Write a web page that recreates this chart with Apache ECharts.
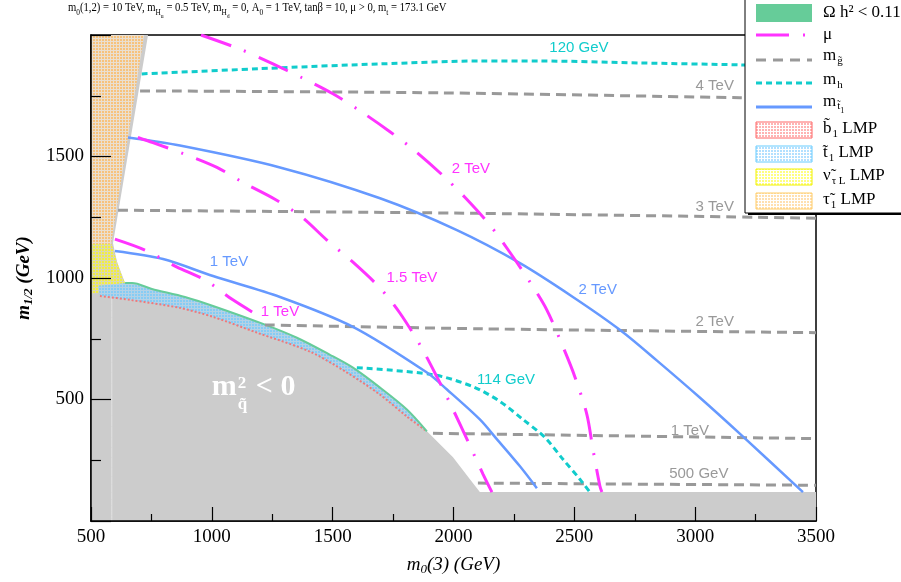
<!DOCTYPE html>
<html>
<head>
<meta charset="utf-8">
<title>m0(3) - m1/2 plane</title>
<script src="https://cdn.jsdelivr.net/npm/echarts@6/dist/echarts.min.js"></script>
<style>html,body{margin:0;padding:0;background:#fff}#main{width:901px;height:582px}</style>
</head>
<body>
<div id="main"></div>
<script>
// axis ticks
var xTickValues = [500, 1000, 1500, 2000, 2500, 3000, 3500];
var yTickLabels = [500, 1000, 1500];

// regions, points are [m0(3), m1/2] in GeV
var noEWSB = [[500,0],[500,2000],[736,2000],[591,1143],[608,1065],[641,979],[670,975],[752,955],[889,922],[1005,885],[1212,811],[1352,754],[1489,684],[1584,631],[1696,549],[1807,459],[1890,369],[1998,262],[2068,172],[2109,119],[3500,119],[3500,0]];
var stauLMP = [[500,2000],[720,2000],[583,1140],[500,1140]];
var snuLMP = [[500,1140],[585,1140],[608,1065],[628,1008],[641,979],[600,955],[540,940],[500,935]];
var stopLMP = [[530,968],[641,979],[670,979],[752,955],[889,922],[1005,885],[1212,811],[1352,754],[1489,684],[1584,631],[1696,549],[1807,459],[1890,369],[1807,430],[1696,520],[1559,611],[1406,697],[1187,775],[1005,840],[868,877],[661,910],[537,926]];
var sbotLMP = [[537,926],[661,910],[868,877],[1005,840],[1187,775],[1406,697],[1559,611],[1696,520],[1807,430],[1890,369]];
var relicLine = [[641,979],[670,979],[752,955],[889,922],[1005,885],[1212,811],[1352,754],[1489,684],[1584,631],[1696,549],[1807,459],[1890,369]];
var seamLine = [[586,0],[586,955]];

// mu contours
var mu1 = [[599,1160],[723,1115],[856,1045],[972,992],[1087,910],[1207,836]];
var mu15 = [[694,1578],[756,1557],[881,1512],[1021,1455],[1129,1393],[1261,1324],[1373,1250],[1476,1156],[1584,1065],[1696,959],[1778,856],[1861,725],[1931,594],[1998,459],[2056,336],[2122,193],[2159,119]];
var mu2 = [[955,2000],[1116,1942],[1253,1881],[1373,1824],[1501,1758],[1613,1688],[1737,1602],[1840,1524],[1956,1422],[2047,1332],[2151,1217],[2233,1106],[2316,984],[2386,869],[2453,717],[2502,594],[2552,438],[2577,295],[2606,143],[2614,119]];
// gluino mass contours
var gl4 = [[703,1770],[1944,1762],[3185,1742],[3500,1738]];
var gl3 = [[612,1279],[2109,1266],[3500,1246]];
var gl2 = [[1220,807],[2109,791],[3500,775]];
var gl1 = [[1915,361],[3500,339]];
var gl05 = [[2101,156],[3500,147]];
// higgs mass contours
var h120 = [[710,1840],[1282,1865],[1696,1881],[2109,1893],[2357,1893],[2771,1885],[3185,1877],[3500,1869]];
var h114 = [[1600,631],[1915,602],[2080,553],[2192,492],[2287,418],[2378,344],[2453,254],[2523,172],[2564,119]];
// stop mass contours
var stop1 = [[599,1111],[798,1078],[1005,1008],[1282,922],[1584,799],[1890,611],[1973,541],[2109,418],[2180,336],[2275,225],[2345,135]];
var stop2 = [[653,1578],[868,1545],[1282,1455],[1696,1328],[2014,1197],[2275,1061],[2494,922],[2688,787],[2842,660],[3019,508],[3197,348],[3446,119]];

// contour labels
var muLabels = [[1282,861,'1 TeV'],[1828,1000,'1.5 TeV'],[2072,1451,'2 TeV']];
var stopLabels = [[1071,1065,'1 TeV'],[2597,951,'2 TeV']];
var gluinoLabels = [[3081,1791,'4 TeV'],[3081,1291,'3 TeV'],[3081,820,'2 TeV'],[2978,369,'1 TeV'],[3015,193,'500 GeV']];
var higgsLabels = [[2519,1947,'120 GeV'],[2217,582,'114 GeV']];
var tachyonNote = [[1178,561]];

var C = {
    mu: '#ff33ff', gluino: '#999999', higgs: '#11cccc', stop: '#6699ff',
    relic: '#66cc99', grey: '#cccccc'
};
var serif = '"Liberation Serif", "Times New Roman", serif';
var sans = '"Liberation Sans", Arial, sans-serif';

function pattern(fg, bg) {
    var c = document.createElement('canvas');
    c.width = 3; c.height = 3;
    var g = c.getContext('2d');
    g.fillStyle = bg; g.fillRect(0, 0, 3, 3);
    g.fillStyle = fg; g.fillRect(0, 0, 2, 2);
    return { image: c, repeat: 'repeat' };
}

function region(points, fill, z) {
    return {
        type: 'custom', coordinateSystem: 'cartesian2d', silent: true, z: z,
        data: [points[0]],
        renderItem: function (params, api) {
            return { type: 'polygon', shape: { points: points.map(function (p) { return api.coord(p); }) }, style: { fill: fill } };
        }
    };
}

function contour(data, color, width, type, z) {
    return {
        type: 'line', data: data, showSymbol: false, symbol: 'none', smooth: 0.3, silent: true, z: z || 4,
        lineStyle: { color: color, width: width, type: type }
    };
}

function labels(arr, color) {
    return {
        type: 'custom', coordinateSystem: 'cartesian2d', silent: true, z: 6,
        data: arr.map(function (d) { return [d[0], d[1]]; }),
        renderItem: function (params, api) {
            var c = api.coord([api.value(0), api.value(1)]);
            return { type: 'text', x: c[0], y: c[1], style: { text: arr[params.dataIndex][2], fill: color, font: '15px ' + sans, align: 'center', verticalAlign: 'middle' } };
        }
    };
}

var chart = echarts.init(document.getElementById('main'));

var legendRich = {
    b: { fontFamily: serif, fontSize: 17, color: '#000', verticalAlign: 'top', lineHeight: 18 },
    s: { fontFamily: serif, fontSize: 11, color: '#000', verticalAlign: 'top', padding: [8, 0, 0, 1] },
    ss: { fontFamily: serif, fontSize: 8, color: '#000', verticalAlign: 'top', padding: [14, 0, 0, 0] }
};
function legText(y, t) {
    return { type: 'text', x: 823, y: y, z: 103, style: { text: t, rich: legendRich, verticalAlign: 'middle', fill: '#000', font: '17px ' + serif } };
}
function legLine(y, color, dash) {
    return { type: 'line', z: 103, shape: { x1: 756, y1: y, x2: 812, y2: y }, style: { stroke: color, lineWidth: 3, lineDash: dash } };
}
function legBox(y, stroke, fg, bg) {
    return { type: 'rect', z: 103, shape: { x: 756, y: y, width: 56, height: 16 }, style: { fill: pattern(fg, bg), stroke: stroke, lineWidth: 1 } };
}

var option = {
    animation: false,
    backgroundColor: '#fff',
    grid: { left: 91, right: 85, top: 35, bottom: 61, show: true, borderColor: '#000', borderWidth: 1.5, outerBoundsMode: 'none' },
    xAxis: {
        type: 'value', min: 500, max: 3500, interval: 500, z: 8,
        axisLine: { lineStyle: { color: '#000', width: 1.5 } },
        axisTick: { inside: true, length: 14, lineStyle: { color: '#000', width: 1.2 } },
        minorTick: { show: true, splitNumber: 2, length: 7, lineStyle: { color: '#000', width: 1.2 } },
        splitLine: { show: false },
        axisLabel: {
            color: '#000', fontFamily: serif, fontSize: 19, margin: 7, showMinLabel: true, showMaxLabel: true,
            formatter: function (v) { return xTickValues.indexOf(v) >= 0 ? String(v) : ''; }
        },
        name: '{i|m}{s|0}{i|(3) (GeV)}', nameLocation: 'middle', nameGap: 34,
        nameTextStyle: {
            rich: {
                i: { fontFamily: serif, fontStyle: 'italic', fontSize: 19, color: '#000', verticalAlign: 'top', lineHeight: 20 },
                s: { fontFamily: serif, fontStyle: 'italic', fontSize: 13, color: '#000', verticalAlign: 'top', padding: [8, 0, 0, 0] }
            }
        }
    },
    yAxis: {
        type: 'value', min: 0, max: 2000, interval: 500, z: 8,
        axisLine: { lineStyle: { color: '#000', width: 1.5 } },
        axisTick: { inside: true, length: 20, lineStyle: { color: '#000', width: 1.2 } },
        minorTick: { show: true, splitNumber: 2, length: 10, lineStyle: { color: '#000', width: 1.2 } },
        splitLine: { show: false },
        axisLabel: {
            color: '#000', fontFamily: serif, fontSize: 19, margin: 7,
            formatter: function (v) { return yTickLabels.indexOf(v) >= 0 ? String(v) : ''; }
        },
        name: '{i|m}{s|1/2}{i| (GeV)}', nameLocation: 'middle', nameGap: 52,
        nameTextStyle: {
            rich: {
                i: { fontFamily: serif, fontStyle: 'italic', fontWeight: 'bold', fontSize: 19, color: '#000', verticalAlign: 'top', lineHeight: 20 },
                s: { fontFamily: serif, fontStyle: 'italic', fontWeight: 'bold', fontSize: 13, color: '#000', verticalAlign: 'top', padding: [8, 0, 0, 0] }
            }
        }
    },
    series: [
        region(noEWSB, C.grey, 1),
        contour(seamLine, '#e2e2e2', 1, 'solid', 1),
        region(stauLMP, pattern('#f7c27c', '#eadfd0'), 2),
        region(snuLMP, pattern('#f2ee40', '#d9d8b4'), 2),
        region(stopLMP, pattern('#86ccf4', '#b4d2e6'), 2),
        contour(sbotLMP, '#f27878', 2, [2, 2], 3),
        contour(relicLine, C.relic, 2, 'solid', 3),
        contour(gl4, C.gluino, 3, [10, 6]),
        contour(gl3, C.gluino, 3, [10, 6]),
        contour(gl2, C.gluino, 3, [10, 6]),
        contour(gl1, C.gluino, 3, [10, 6]),
        contour(gl05, C.gluino, 3, [10, 6]),
        contour(h120, C.higgs, 3, [6, 4]),
        contour(h114, C.higgs, 3, [6, 4]),
        contour(stop1, C.stop, 2.5, 'solid'),
        contour(stop2, C.stop, 2.5, 'solid'),
        contour(mu1, C.mu, 3, [32, 14, 2, 14]),
        contour(mu15, C.mu, 3, [32, 14, 2, 14]),
        contour(mu2, C.mu, 3, [32, 14, 2, 14]),
        labels(muLabels, C.mu),
        labels(stopLabels, C.stop),
        labels(gluinoLabels, C.gluino),
        labels(higgsLabels, C.higgs),
        {
            type: 'custom', coordinateSystem: 'cartesian2d', silent: true, z: 7,
            data: tachyonNote,
            renderItem: function (params, api) {
                var c = api.coord([api.value(0), api.value(1)]);
                var big = 'bold 30px ' + serif, small = 'bold 17px ' + serif;
                return {
                    type: 'group', children: [
                        { type: 'text', x: c[0] - 43, y: c[1] + 3, style: { text: 'm', font: big, fill: '#fff', verticalAlign: 'middle' } },
                        { type: 'text', x: c[0] - 17, y: c[1] - 1, style: { text: '2', font: small, fill: '#fff', verticalAlign: 'middle' } },
                        { type: 'text', x: c[0] - 17, y: c[1] + 20, style: { text: 'q\u0303', font: small, fill: '#fff', verticalAlign: 'middle' } },
                        { type: 'text', x: c[0] + 1, y: c[1] + 3, style: { text: '< 0', font: big, fill: '#fff', verticalAlign: 'middle' } }
                    ]
                };
            }
        }
    ],
    graphic: [
        {
            type: 'text', x: 68, y: 1, z: 110, scaleX: 0.82,
            style: {
                text: '{n|m}{s|0}{n|(1,2) = 10 TeV, m}{s|H}{ss|u}{n| = 0.5 TeV, m}{s|H}{ss|d}{n| = 0, A}{s|0}{n| = 1 TeV, tan\u03b2 = 10, \u03bc > 0, m}{s|t}{n| = 173.1 GeV}',
                rich: {
                    n: { fontFamily: serif, fontSize: 13, color: '#000', verticalAlign: 'top', lineHeight: 14 },
                    s: { fontFamily: serif, fontSize: 9, color: '#000', verticalAlign: 'top', padding: [7, 0, 0, 0] },
                    ss: { fontFamily: serif, fontSize: 7, color: '#000', verticalAlign: 'top', padding: [12, 0, 0, 0] }
                }
            }
        },
        { type: 'rect', z: 100, shape: { x: 748, y: -5, width: 160, height: 220 }, style: { fill: '#000' } },
        { type: 'rect', z: 101, shape: { x: 745, y: -5, width: 160, height: 218 }, style: { fill: '#fff', stroke: '#000', lineWidth: 1 } },
        { type: 'rect', z: 103, shape: { x: 756, y: 4, width: 56, height: 18 }, style: { fill: C.relic } },
        legLine(35, C.mu, [33, 14, 2, 20]),
        legLine(60, C.gluino, [10, 7]),
        legLine(83, C.higgs, [6, 4]),
        legLine(107, C.stop, null),
        legBox(122, '#ff6666', '#ffb3b3', '#ffffff'),
        legBox(146, '#66ccff', '#b3e0ff', '#ffffff'),
        legBox(169, '#f0f000', '#ffff80', '#ffffff'),
        legBox(193, '#ffcc66', '#ffe0b0', '#ffffff'),
        legText(13, '{b|\u03a9 h\u00b2 < 0.11}'),
        legText(35, '{b|\u03bc}'),
        legText(57, '{b|m}{s|g\u0303}'),
        legText(81, '{b|m}{s|h}'),
        legText(104, '{b|m}{s|t\u0303}{ss|1}'),
        legText(130, '{b|b\u0303}{s|1}{b| LMP}'),
        legText(154, '{b|t\u0303}{s|1}{b| LMP}'),
        legText(177, '{b|\u03bd\u0303}{s|\u03c4 L}{b| LMP}'),
        legText(201, '{b|\u03c4\u0303}{s|1}{b| LMP}')
    ]
};

chart.setOption(option);
</script>
</body>
</html>
